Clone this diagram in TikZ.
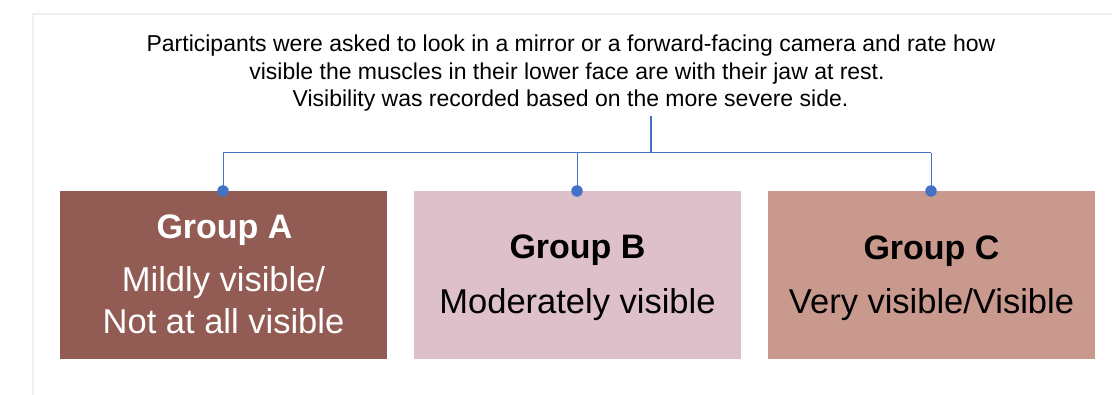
\documentclass[tikz,border=0pt]{standalone}
\usepackage{fontspec}
\setmainfont{Liberation Sans}
\definecolor{boxA}{HTML}{925C54}
\definecolor{boxB}{HTML}{DEC0CB}
\definecolor{boxC}{HTML}{C9998E}
\definecolor{link}{HTML}{4472C4}
\definecolor{frame}{HTML}{F0F0F0}
\begin{document}
\begin{tikzpicture}[x=1pt,y=-1pt,
  grp/.style={minimum width=327pt,minimum height=168pt,inner sep=0pt,anchor=north west},
  head/.style={anchor=base,font=\fontsize{34}{40}\selectfont\bfseries},
  body/.style={anchor=base,font=\fontsize{34.5}{40}\selectfont},
  intro/.style={anchor=base,font=\fontsize{23}{28}\selectfont},
  wire/.style={draw=link,line width=1pt},
  dot/.style={circle,fill=link,inner sep=0pt,minimum size=11.5pt}]
\useasboundingbox (0,0) rectangle (1112,395);
\fill[white] (0,0) rectangle (1112,395);
\draw[frame,line width=1.2pt] (33,395) -- (33,14) -- (1112,14);
% intro text
\node[intro] (t1) at (571,51.7) {Participants were asked to look in a mirror or a forward-facing camera and rate how};
\node[intro] (t2) at (567,80) {visible the muscles in their lower face are with their jaw at rest.};
\node[intro] (t3) at (570.5,106.7) {Visibility was recorded based on the more severe side.};
% boxes
\node[grp,fill=boxA] (A) at (60,191) {};
\node[grp,fill=boxB] (B) at (414,191) {};
\node[grp,fill=boxC] (C) at (768,191) {};
\node[head,text=white] (Ah) at (224.5,238.3) {Group A};
\node[body,text=white] (Ab1) at (223.5,291.7) {Mildly visible/};
\node[body,text=white] (Ab2) at (223.5,333.3) {Not at all visible};
\node[head] (Bh) at (577.5,258.3) {Group B};
\node[body] (Bb) at (577.5,314) {Moderately visible};
\node[head] (Ch) at (931.5,260) {Group C};
\node[body] (Cb) at (931.5,314) {Very visible/Visible};
% connectors
\coordinate (top) at (651,116);
\coordinate (hub) at (651,153);
\coordinate (la) at (223,153);
\coordinate (lc) at (931,153);
\node[dot] (dA) at (223,191) {};
\node[dot] (dB) at (577,191) {};
\node[dot] (dC) at (931,191) {};
\draw[wire,line width=1.5pt] (top) -- (hub);
\draw[wire] (la) -- (lc);
\draw[wire] (la) -- (dA.center);
\draw[wire] (dB.center |- hub) -- (dB.center);
\draw[wire] (lc) -- (dC.center);
\end{tikzpicture}
\end{document}
